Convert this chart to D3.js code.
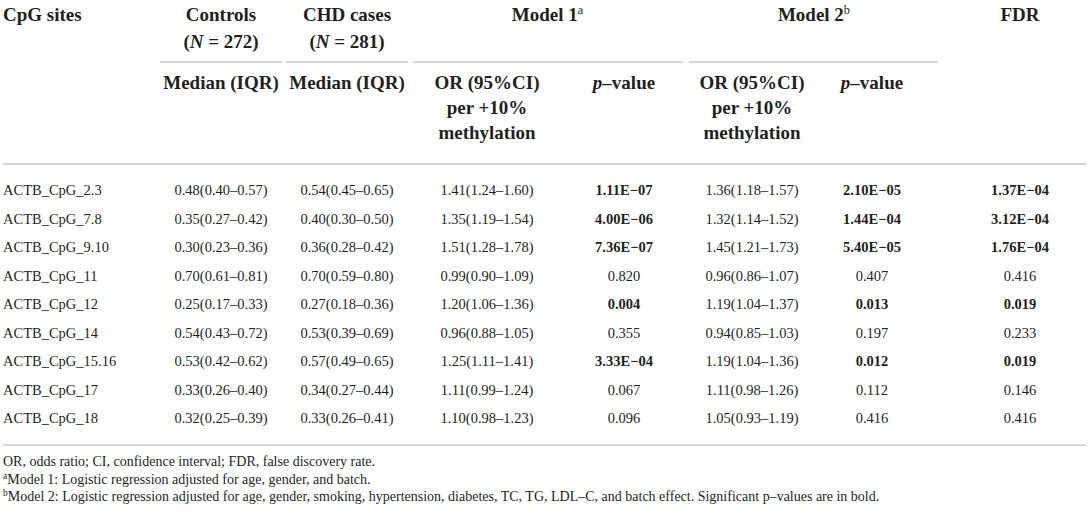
<!DOCTYPE html>
<html lang="en">
<head>
  <meta charset="utf-8">
  <title>ACTB CpG sites and CHD</title>
  <script src="https://d3js.org/d3.v7.min.js"></script>
  <style>
    body { margin: 0; background: #fff; }
    svg text { font-family: "Liberation Serif", "Times New Roman", serif; fill: #231f20; }
    .head { font-size: 19px; font-weight: bold; }
    .cell { font-size: 14.5px; }
    .note { font-size: 14px; }
    .rule { stroke: #c9c9c9; stroke-width: 1.5; }
  </style>
</head>
<body>
<script>
  // table values
  const sites = ["ACTB_CpG_2.3", "ACTB_CpG_7.8", "ACTB_CpG_9.10", "ACTB_CpG_11", "ACTB_CpG_12",
                 "ACTB_CpG_14", "ACTB_CpG_15.16", "ACTB_CpG_17", "ACTB_CpG_18"];
  const controls = ["0.48(0.40–0.57)", "0.35(0.27–0.42)", "0.30(0.23–0.36)", "0.70(0.61–0.81)", "0.25(0.17–0.33)",
                    "0.54(0.43–0.72)", "0.53(0.42–0.62)", "0.33(0.26–0.40)", "0.32(0.25–0.39)"];
  const cases = ["0.54(0.45–0.65)", "0.40(0.30–0.50)", "0.36(0.28–0.42)", "0.70(0.59–0.80)", "0.27(0.18–0.36)",
                 "0.53(0.39–0.69)", "0.57(0.49–0.65)", "0.34(0.27–0.44)", "0.33(0.26–0.41)"];
  const model1OR = ["1.41(1.24–1.60)", "1.35(1.19–1.54)", "1.51(1.28–1.78)", "0.99(0.90–1.09)", "1.20(1.06–1.36)",
                    "0.96(0.88–1.05)", "1.25(1.11–1.41)", "1.11(0.99–1.24)", "1.10(0.98–1.23)"];
  const model1P = ["1.11E−07", "4.00E−06", "7.36E−07", "0.820", "0.004", "0.355", "3.33E−04", "0.067", "0.096"];
  const model2OR = ["1.36(1.18–1.57)", "1.32(1.14–1.52)", "1.45(1.21–1.73)", "0.96(0.86–1.07)", "1.19(1.04–1.37)",
                    "0.94(0.85–1.03)", "1.19(1.04–1.36)", "1.11(0.98–1.26)", "1.05(0.93–1.19)"];
  const model2P = ["2.10E−05", "1.44E−04", "5.40E−05", "0.407", "0.013", "0.197", "0.012", "0.112", "0.416"];
  const fdr = ["1.37E−04", "3.12E−04", "1.76E−04", "0.416", "0.019", "0.233", "0.019", "0.146", "0.416"];

  const footnotes = [
    { sup: "", text: "OR, odds ratio; CI, confidence interval; FDR, false discovery rate." },
    { sup: "a", text: "Model 1: Logistic regression adjusted for age, gender, and batch." },
    { sup: "b", text: "Model 2: Logistic regression adjusted for age, gender, smoking, hypertension, diabetes, TC, TG, LDL–C, and batch effect. Significant p–values are in bold." }
  ];

  const width = 1089, height = 512;

  const svg = d3.select("body").append("svg")
    .attr("width", width)
    .attr("height", height);

  // column centres
  const colKeys = ["controls", "cases", "m1or", "m1p", "m2or", "m2p", "fdr"];
  const x = d3.scaleOrdinal()
    .domain(colKeys)
    .range([221, 347, 487, 624, 752, 872, 1020]);

  // body rows
  const y = d3.scaleBand()
    .domain(sites)
    .range([176, 432.5]);

  // helper: text made of pieces (italic / superscript)
  function rich(sel, parts) {
    parts.forEach(p => {
      const t = sel.append("tspan").text(p.t);
      if (p.i) t.style("font-style", "italic");
      if (p.sup) t.attr("baseline-shift", "super").style("font-size", "12.5px").style("font-weight", "normal");
    });
    return sel;
  }

  // ---- header ----
  const head = svg.append("g").attr("class", "head");

  head.append("text").attr("x", 3).attr("y", 21).text("CpG sites");

  const groups = [
    { key: "controls", x: x("controls"), lines: [[{ t: "Controls" }], [{ t: "(" }, { t: "N", i: true }, { t: " = 272)" }]] },
    { key: "cases", x: x("cases"), lines: [[{ t: "CHD cases" }], [{ t: "(" }, { t: "N", i: true }, { t: " = 281)" }]] },
    { key: "m1", x: (x("m1or") + x("m1p")) / 2 - 8, lines: [[{ t: "Model 1" }, { t: "a", sup: true }]] },
    { key: "m2", x: (x("m2or") + x("m2p")) / 2 + 2, lines: [[{ t: "Model 2" }, { t: "b", sup: true }]] },
    { key: "fdr", x: x("fdr"), lines: [[{ t: "FDR" }]] }
  ];

  groups.forEach(g => {
    g.lines.forEach((parts, i) => {
      rich(head.append("text")
        .attr("x", g.x)
        .attr("y", 21 + i * 27)
        .attr("text-anchor", "middle"), parts);
    });
  });

  // short rules under the grouped headings
  const spans = [[160, 282], [286, 408], [413, 683], [689, 938]];
  svg.selectAll(".span-rule")
    .data(spans)
    .enter().append("line")
    .attr("class", "rule span-rule")
    .attr("x1", d => d[0]).attr("x2", d => d[1])
    .attr("y1", 62).attr("y2", 62);

  const sub = [
    { key: "controls", lines: [[{ t: "Median (IQR)" }]] },
    { key: "cases", lines: [[{ t: "Median (IQR)" }]] },
    { key: "m1or", lines: [[{ t: "OR (95%CI)" }], [{ t: "per +10%" }], [{ t: "methylation" }]] },
    { key: "m1p", lines: [[{ t: "p", i: true }, { t: "–value" }]] },
    { key: "m2or", lines: [[{ t: "OR (95%CI)" }], [{ t: "per +10%" }], [{ t: "methylation" }]] },
    { key: "m2p", lines: [[{ t: "p", i: true }, { t: "–value" }]] }
  ];

  sub.forEach(s => {
    s.lines.forEach((parts, i) => {
      rich(head.append("text")
        .attr("x", x(s.key))
        .attr("y", 89 + i * 25)
        .attr("text-anchor", "middle"), parts);
    });
  });

  svg.append("line").attr("class", "rule")
    .attr("x1", 3).attr("x2", 1086)
    .attr("y1", 164).attr("y2", 164);

  // ---- body ----
  const isSig = s => parseFloat(s.replace("−", "-")) < 0.05;

  const rows = sites.map((s, i) => ({
    site: s,
    controls: controls[i], cases: cases[i],
    m1or: model1OR[i], m1p: model1P[i],
    m2or: model2OR[i], m2p: model2P[i],
    fdr: fdr[i]
  }));

  const row = svg.selectAll(".row")
    .data(rows)
    .enter().append("g")
    .attr("class", "row cell")
    .attr("transform", d => `translate(0,${y(d.site) + y.bandwidth() / 2})`);

  row.append("text")
    .attr("x", 3)
    .attr("dy", "0.35em")
    .text(d => d.site);

  colKeys.forEach(k => {
    row.append("text")
      .attr("x", x(k))
      .attr("dy", "0.35em")
      .attr("text-anchor", "middle")
      .style("font-weight", d => (["m1p", "m2p", "fdr"].includes(k) && isSig(d[k])) ? "bold" : "normal")
      .text(d => d[k]);
  });

  svg.append("line").attr("class", "rule")
    .attr("x1", 3).attr("x2", 1086)
    .attr("y1", 445).attr("y2", 445);

  // ---- footnotes ----
  footnotes.forEach((f, i) => {
    const t = svg.append("text")
      .attr("class", "note")
      .attr("x", 3)
      .attr("y", 466 + i * 17.5);
    if (f.sup) t.append("tspan").attr("baseline-shift", "super").style("font-size", "9.5px").text(f.sup);
    t.append("tspan").text(f.text);
  });
</script>
</body>
</html>
